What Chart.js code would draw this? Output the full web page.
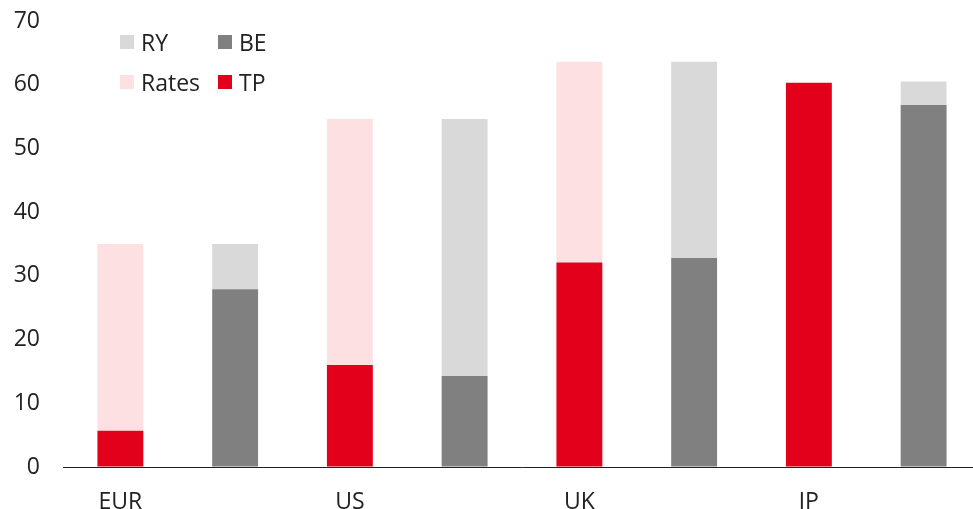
<!DOCTYPE html>
<html>
<head>
<meta charset="utf-8">
<script src="https://cdn.jsdelivr.net/npm/chart.js@4/dist/chart.umd.min.js"></script>
<style>
  html, body { margin: 0; padding: 0; background: #fff; overflow: hidden; }
  #grafik { position: absolute; left: 0; top: 0; }
  #legend { position: absolute; left: 120px; top: 28px; display: grid;
    grid-template-columns: 98px auto; row-gap: 13px;
    font-family: "Open Sans", sans-serif; font-size: 23px; color: #222; }
  .item { display: flex; align-items: center; height: 27px; }
  .kare { width: 14px; height: 14px; margin-right: 7px; }
</style>
</head>
<body>
<canvas id="grafik" width="981" height="516"></canvas>
<div id="legend"></div>
<script>
  // bölgeler ve değerler
  const bolgeler = ["EUR", "US", "UK", "JP"];
  const tp = [5.7, 16.0, 32.1, 60.3];
  const rates = [29.3, 38.6, 31.5, 0];
  const be = [27.9, 14.3, 32.8, 56.8];
  const ry = [7.1, 40.3, 30.8, 3.7];
  const yTicks = [0, 10, 20, 30, 40, 50, 60, 70];

  const renkler = { TP: "#e2001a", Rates: "#fde0e2", BE: "#808080", RY: "#d9d9d9" };

  // her bölge için iki çubuk: sol TP+Rates, sağ BE+RY
  const etiketler = [];
  const solVeri = (arr) => bolgeler.flatMap((_, i) => [arr[i], null]);
  const sagVeri = (arr) => bolgeler.flatMap((_, i) => [null, arr[i]]);
  bolgeler.forEach((b) => etiketler.push(b, ""));

  const ortak = { barPercentage: 0.4, categoryPercentage: 1, borderWidth: 0 };
  const veriSetleri = [
    { label: "TP", data: solVeri(tp), backgroundColor: renkler.TP, ...ortak },
    { label: "Rates", data: solVeri(rates), backgroundColor: renkler.Rates, ...ortak },
    { label: "BE", data: sagVeri(be), backgroundColor: renkler.BE, ...ortak },
    { label: "RY", data: sagVeri(ry), backgroundColor: renkler.RY, ...ortak },
  ];

  // HTML legend: RY, BE / Rates, TP
  const legend = document.getElementById("legend");
  ["RY", "BE", "Rates", "TP"].forEach((ad) => {
    const d = document.createElement("div");
    d.className = "item";
    d.innerHTML = `<span class="kare" style="background:${renkler[ad]}"></span>${ad}`;
    legend.appendChild(d);
  });

  const yaziTipi = { family: "Open Sans", size: 23 };

  new Chart(document.getElementById("grafik"), {
    type: "bar",
    data: { labels: etiketler, datasets: veriSetleri },
    options: {
      responsive: false,
      animation: false,
      layout: { padding: { top: 21, left: 0, right: 0, bottom: 0 } },
      plugins: { legend: { display: false }, tooltip: { enabled: false } },
      scales: {
        x: {
          stacked: true,
          afterFit: (s) => { s.height = 49; },
          grid: { display: false, drawTicks: false },
          border: { display: true, color: "#222", width: 1 },
          ticks: { color: "#222", font: yaziTipi, padding: 22, maxRotation: 0, autoSkip: false },
        },
        y: {
          stacked: true,
          min: 0,
          max: 70,
          afterBuildTicks: (s) => { s.ticks = yTicks.map((v) => ({ value: v })); },
          afterFit: (s) => { s.width = 63; },
          // görünmez tick çizgisi etiketleri sola iter
          grid: { display: true, color: "rgba(0,0,0,0)", drawOnChartArea: false, drawTicks: true, tickLength: 23 },
          border: { display: false },
          ticks: { color: "#222", font: yaziTipi, padding: 0 },
        },
      },
    },
  });
</script>
</body>
</html>
